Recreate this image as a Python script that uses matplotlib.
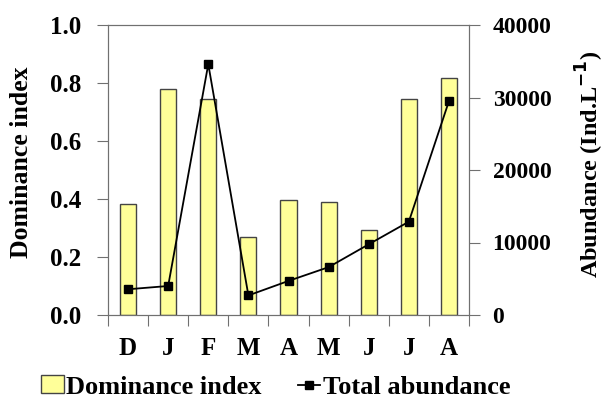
import matplotlib
matplotlib.use("Agg")
import matplotlib.pyplot as plt
import numpy as np

months = ["D", "J", "F", "M", "A", "M", "J", "J", "A"]
dominance = [0.383, 0.778, 0.745, 0.270, 0.397, 0.390, 0.293, 0.744, 0.817]
abundance = [3550, 4000, 34600, 2700, 4700, 6600, 9750, 12870, 29500]

plt.rcParams["font.family"] = ["Liberation Serif", "DejaVu Serif"]
plt.rcParams["font.weight"] = "bold"
plt.rcParams["mathtext.default"] = "bf"

fig = plt.figure(figsize=(6.06, 3.99), dpi=100)
ax = fig.add_axes([108 / 606, 1 - 315 / 399, 361 / 606, 290 / 399])
x = np.arange(len(months))

spine_c = "#707070"
ax.bar(x, dominance, width=0.4, color="#FFFF99", edgecolor="#444444",
       linewidth=1.0, label="Dominance index", zorder=2)
ax.set_ylim(0, 1.0)
ax.set_xlim(-0.5, len(months) - 0.5)
yt = np.arange(0, 1.01, 0.2)
ax.set_yticks(yt)
ax.set_yticklabels([f"{v:.1f}" for v in yt])
ax.set_xticks(np.arange(-0.5, len(months), 1.0))
ax.set_xticklabels([])
ax.set_xticks(x, minor=True)
ax.set_xticklabels(months, minor=True)
ax.tick_params(axis="x", which="major", length=8, color=spine_c, direction="out")
ax.tick_params(axis="x", which="minor", length=0, pad=16, labelsize=18)
ax.tick_params(axis="y", length=8, color=spine_c, labelsize=18, pad=11)
for s in ax.spines.values():
    s.set_color(spine_c)

ax2 = ax.twinx()
ax2.plot(x, abundance, color="black", marker="s", markersize=6,
         linewidth=1.3, label="Total abundance", zorder=3)
ax2.set_ylim(0, 40000)
ax2.set_yticks(np.arange(0, 40001, 10000))
ax2.tick_params(axis="y", length=8, color=spine_c, labelsize=17, pad=9)
for s in ax2.spines.values():
    s.set_color(spine_c)

# axis titles placed in figure coordinates
fig.text(21 / 606, 1 - 162 / 399, "Dominance index", rotation=90,
         ha="center", va="center", fontsize=18.5, fontweight="bold")
fig.text(590 / 606, 1 - 164 / 399, "Abundance (Ind.L$^{-1}$)", rotation=90,
         ha="center", va="center", fontsize=17.5, fontweight="bold")

h1, l1 = ax.get_legend_handles_labels()
h2, l2 = ax2.get_legend_handles_labels()
fig.legend(h1 + h2, l1 + l2, loc="center", bbox_to_anchor=(0.455, 0.03),
           ncol=2, frameon=False, handlelength=0.85,
           handletextpad=0.1, columnspacing=1.35, handleheight=0.65,
           prop={"size": 19, "weight": "bold"})

fig.savefig("out.png", dpi=100)
